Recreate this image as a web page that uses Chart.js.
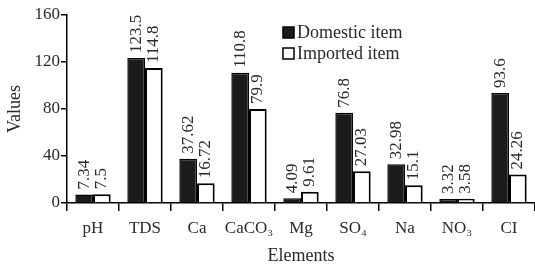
<!DOCTYPE html>
<html>
<head>
<meta charset="utf-8">
<script src="https://cdn.jsdelivr.net/npm/chart.js@4/dist/chart.umd.min.js"></script>
<style>
  body { margin: 0; background: #fff; }
  canvas { display: block; }
</style>
</head>
<body>
<canvas id="elementsChart" width="535" height="265"></canvas>
<script>
// chart data
var categories = ['pH', 'TDS', 'Ca', 'CaCO\u2083', 'Mg', 'SO\u2084', 'Na', 'NO\u2083', 'CI'];
var domestic = [7.34, 123.5, 37.62, 110.8, 4.09, 76.8, 32.98, 3.32, 93.6];
var imported = [7.5, 114.8, 16.72, 79.9, 9.61, 27.03, 15.1, 3.58, 24.26];
var yTicks = [0, 40, 80, 120, 160];

var serif = "'Liberation Serif', 'Times New Roman', serif";
var textColor = '#2a2a2a';

// rotated value labels above each bar
var valueLabels = {
    id: 'valueLabels',
    afterDatasetsDraw: function (chart) {
        var ctx = chart.ctx;
        ctx.save();
        ctx.font = '17px ' + serif;
        ctx.fillStyle = textColor;
        ctx.textAlign = 'left';
        ctx.textBaseline = 'middle';
        chart.data.datasets.forEach(function (ds, i) {
            var meta = chart.getDatasetMeta(i);
            meta.data.forEach(function (bar, j) {
                ctx.save();
                ctx.translate(bar.x, bar.y - 5);
                ctx.rotate(-Math.PI / 2);
                ctx.fillText(String(ds.data[j]), 0, 0);
                ctx.restore();
            });
        });
        ctx.restore();
    }
};

// legend box inside the plot, top right
var innerLegend = {
    id: 'innerLegend',
    afterDraw: function (chart) {
        var ctx = chart.ctx;
        var x = 283, y = 27;
        ctx.save();
        ctx.font = '18px ' + serif;
        ctx.textBaseline = 'middle';
        chart.data.datasets.forEach(function (ds, i) {
            var top = y + i * 21;
            ctx.fillStyle = ds.backgroundColor;
            ctx.fillRect(x, top, 11, 11);
            ctx.lineWidth = 1.5;
            ctx.strokeStyle = '#000';
            ctx.strokeRect(x, top, 11, 11);
            ctx.fillStyle = textColor;
            ctx.fillText(ds.label, x + 14, top + 6);
        });
        ctx.restore();
    }
};

var ctx = document.getElementById('elementsChart');
var myBarChart = new Chart(ctx, {
    type: 'bar',
    data: {
        labels: categories,
        datasets: [{
            label: 'Domestic item',
            data: domestic,
            backgroundColor: '#1c1c1c',
            borderColor: '#000',
            borderWidth: 1.5
        }, {
            label: 'Imported item',
            data: imported,
            backgroundColor: '#ffffff',
            borderColor: '#000',
            borderWidth: 2
        }]
    },
    options: {
        responsive: false,
        animation: false,
        layout: { padding: { top: 15, right: 0, left: 0, bottom: 0 } },
        plugins: {
            legend: { display: false },
            tooltip: { enabled: false }
        },
        datasets: {
            bar: { categoryPercentage: 0.68, barPercentage: 1.0 }
        },
        scales: {
            x: {
                grid: { drawOnChartArea: false, drawTicks: true, tickLength: 8, color: '#000', lineWidth: 1.5 },
                border: { color: '#000', width: 1.5 },
                ticks: { font: { family: serif, size: 17 }, color: textColor, padding: 7, maxRotation: 0 },
                title: { display: true, text: 'Elements', font: { family: serif, size: 18, lineHeight: 1 }, color: textColor, padding: { top: 0, bottom: 0 } },
                afterFit: function (scale) { scale.height = 62; }
            },
            y: {
                min: 0,
                max: 160,
                afterBuildTicks: function (scale) {
                    scale.ticks = yTicks.map(function (v) { return { value: v }; });
                },
                grid: { drawOnChartArea: false, drawTicks: true, tickLength: 6, color: '#000', lineWidth: 1.5 },
                border: { color: '#000', width: 1.5 },
                ticks: { font: { family: serif, size: 17 }, color: textColor, padding: 1 },
                title: { display: true, text: 'Values', font: { family: serif, size: 18 }, color: textColor, padding: { top: 4, bottom: 0 } },
                afterFit: function (scale) { scale.width = 67; }
            }
        }
    },
    plugins: [valueLabels, innerLegend]
});
</script>
</body>
</html>
